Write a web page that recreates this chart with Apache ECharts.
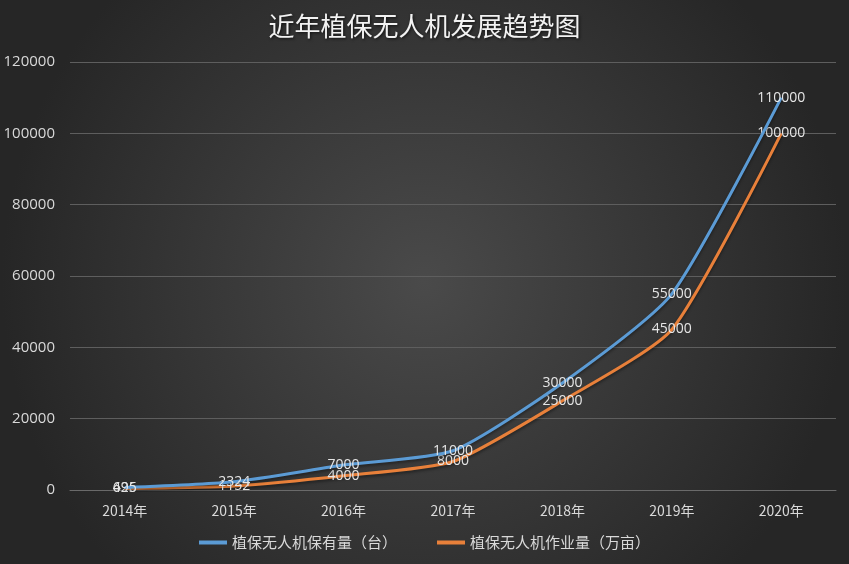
<!DOCTYPE html>
<html><head><meta charset="utf-8">
<script src="https://cdn.jsdelivr.net/npm/echarts@6/dist/echarts.min.js"></script>
<style>html,body{margin:0;padding:0;background:#333;}#c{width:849px;height:564px;}</style>
</head><body><div id="c"></div>
<script>
const categories = ['2014年','2015年','2016年','2017年','2018年','2019年','2020年'];
const ownership = [695, 2324, 7000, 11000, 30000, 55000, 110000];
const operation = [426, 1152, 4000, 8000, 25000, 45000, 100000];
const seriesNames = ['植保无人机保有量（台）','植保无人机作业量（万亩）'];
const titleText = '近年植保无人机发展趋势图';

const chart = echarts.init(document.getElementById('c'));
const font = '"Noto Sans CJK SC","Noto Sans",sans-serif';
const lbl = {show:true, position:'inside', color:'#e6e6e6', fontSize:14, fontFamily:'"Open Sans","Noto Sans",sans-serif'};
chart.setOption({
  backgroundColor: {type:'radial', x:0.5, y:0.5, r:0.75, colorStops:[{offset:0,color:'#4a4a4a'},{offset:1,color:'#262626'}]},
  title:{text:titleText, left:'center', top:8, textStyle:{color:'#f2f2f2', fontSize:26, fontWeight:'normal', fontFamily:'"Noto Sans CJK SC",serif', textShadowColor:'rgba(0,0,0,0.7)', textShadowBlur:3, textShadowOffsetX:1, textShadowOffsetY:1}},
  legend:{bottom:9, left:'center', itemGap:40, itemWidth:28, itemHeight:4, icon:'rect', textStyle:{color:'#d9d9d9', fontSize:15, fontFamily:font}, data:seriesNames},
  grid:{left:70, right:13, top:62, bottom:74, containLabel:false},
  xAxis:{type:'category', data:categories, boundaryGap:true,
    axisLine:{lineStyle:{color:'#6a6a6a'}}, axisTick:{show:false},
    axisLabel:{color:'#d9d9d9', fontSize:14, fontFamily:font, margin:14}},
  yAxis:{type:'value', min:0, max:120000, interval:20000,
    axisLine:{show:false}, axisTick:{show:false},
    splitLine:{lineStyle:{color:'#5e5e5e', width:1}},
    axisLabel:{color:'#d9d9d9', fontSize:15, fontFamily:'"Open Sans","Noto Sans",sans-serif', margin:15, formatter:v=>String(v)}},
  series:[
    {name:seriesNames[0], type:'line', smooth:0.2, data:ownership, symbol:'circle', symbolSize:0, showSymbol:true, lineStyle:{color:'#5b9bd5', width:3, shadowColor:'rgba(0,0,0,0.4)', shadowBlur:3, shadowOffsetY:2}, itemStyle:{color:'#5b9bd5'}, label:lbl, labelLayout:{hideOverlap:false}, z:3},
    {name:seriesNames[1], type:'line', smooth:0.2, data:operation, symbol:'circle', symbolSize:0, showSymbol:true, lineStyle:{color:'#e8803a', width:3, shadowColor:'rgba(0,0,0,0.4)', shadowBlur:3, shadowOffsetY:2}, itemStyle:{color:'#e8803a'}, label:lbl, labelLayout:{hideOverlap:false}, z:2}
  ]
});
</script></body></html>
